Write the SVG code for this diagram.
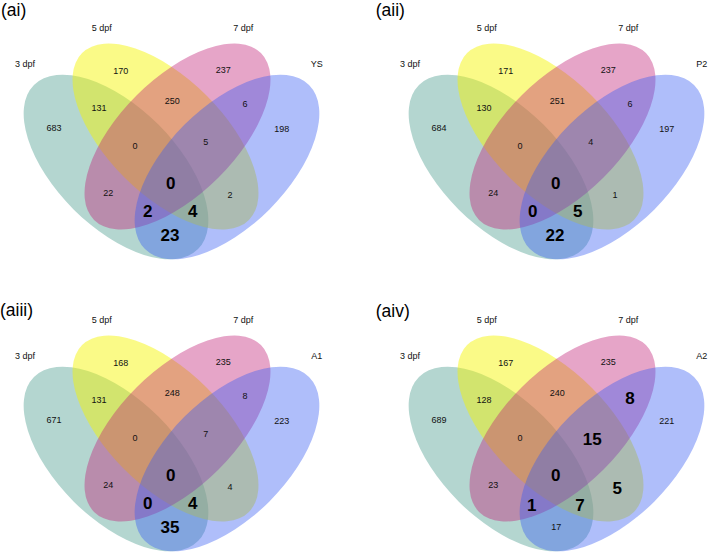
<svg xmlns="http://www.w3.org/2000/svg" width="709" height="552" viewBox="0 0 709 552">
<style>
.bg{fill:#ffffff}
.eg{fill:#43988a;fill-opacity:0.4}
.ey{fill:#f5f500;fill-opacity:0.47}
.ep{fill:#c01e75;fill-opacity:0.4}
.eb{fill:#375cf2;fill-opacity:0.4}
text{font-family:"Liberation Sans",Arial,sans-serif;fill:#111}
.t{font-size:17.5px;fill:#000}
.c{font-size:9px;text-anchor:middle}
.n{font-size:9px;text-anchor:middle}
.b{font-size:17px;font-weight:bold;text-anchor:middle;fill:#000}
</style>
<rect class="bg" x="0" y="0" width="709" height="552"/>

<g id="panel-ai">
  <text class="t" x="1" y="15.7">(ai)</text>
  <g id="ai-3dpf"><ellipse class="eg" rx="116" ry="60" transform="translate(116,167) rotate(45)"/><text class="c" x="25" y="67.2">3 dpf</text></g>
  <g id="ai-5dpf"><ellipse class="ey" rx="118" ry="58" transform="translate(165.5,136.5) rotate(45)"/><text class="c" x="101.7" y="31.2">5 dpf</text></g>
  <g id="ai-7dpf"><ellipse class="ep" rx="118" ry="58" transform="translate(177.5,136.5) rotate(-45)"/><text class="c" x="243.3" y="31.2">7 dpf</text></g>
  <g id="ai-ys"><ellipse class="eb" rx="116" ry="60" transform="translate(227,167) rotate(-45)"/><text class="c" x="316.7" y="67.2">YS</text></g>
  <g id="ai-counts">
    <text class="n" x="120.7" y="74.2">170</text>
    <text class="n" x="223.3" y="73.2">237</text>
    <text class="n" x="99" y="110.9">131</text>
    <text class="n" x="172.3" y="104.2">250</text>
    <text class="n" x="245" y="106.5">6</text>
    <text class="n" x="54" y="130.9">683</text>
    <text class="n" x="281.7" y="132.2">198</text>
    <text class="n" x="135" y="148.9">0</text>
    <text class="n" x="205.7" y="144.9">5</text>
    <text class="n" x="108.3" y="195.9">22</text>
    <text class="n" x="230" y="198.2">2</text>
    <text class="b" x="170.7" y="189.4">0</text>
    <text class="b" x="147.7" y="217.1">2</text>
    <text class="b" x="192.7" y="217.1">4</text>
    <text class="b" x="170" y="241.1">23</text>
  </g>
</g>

<g id="panel-aii">
  <text class="t" x="375.7" y="15.7">(aii)</text>
  <g transform="translate(385,0)">
  <g id="aii-3dpf"><ellipse class="eg" rx="116" ry="60" transform="translate(116,167) rotate(45)"/><text class="c" x="25" y="67.2">3 dpf</text></g>
  <g id="aii-5dpf"><ellipse class="ey" rx="118" ry="58" transform="translate(165.5,136.5) rotate(45)"/><text class="c" x="101.7" y="31.2">5 dpf</text></g>
  <g id="aii-7dpf"><ellipse class="ep" rx="118" ry="58" transform="translate(177.5,136.5) rotate(-45)"/><text class="c" x="243.3" y="31.2">7 dpf</text></g>
  <g id="aii-p2"><ellipse class="eb" rx="116" ry="60" transform="translate(227,167) rotate(-45)"/><text class="c" x="316.7" y="67.2">P2</text></g>
  <g id="aii-counts">
    <text class="n" x="120.7" y="74.2">171</text>
    <text class="n" x="223.3" y="73.2">237</text>
    <text class="n" x="99" y="110.9">130</text>
    <text class="n" x="172.3" y="104.2">251</text>
    <text class="n" x="245" y="106.5">6</text>
    <text class="n" x="54" y="130.9">684</text>
    <text class="n" x="281.7" y="132.2">197</text>
    <text class="n" x="135" y="148.9">0</text>
    <text class="n" x="205.7" y="144.9">4</text>
    <text class="n" x="108.3" y="195.9">24</text>
    <text class="n" x="230" y="198.2">1</text>
    <text class="b" x="170.7" y="189.4">0</text>
    <text class="b" x="147.7" y="217.1">0</text>
    <text class="b" x="192.7" y="217.1">5</text>
    <text class="b" x="170" y="241.1">22</text>
  </g>
  </g>
</g>

<g id="panel-aiii">
  <text class="t" x="0" y="315.7">(aiii)</text>
  <g transform="translate(0,292)">
  <g id="aiii-3dpf"><ellipse class="eg" rx="116" ry="60" transform="translate(116,167) rotate(45)"/><text class="c" x="25" y="67.2">3 dpf</text></g>
  <g id="aiii-5dpf"><ellipse class="ey" rx="118" ry="58" transform="translate(165.5,136.5) rotate(45)"/><text class="c" x="101.7" y="31.2">5 dpf</text></g>
  <g id="aiii-7dpf"><ellipse class="ep" rx="118" ry="58" transform="translate(177.5,136.5) rotate(-45)"/><text class="c" x="243.3" y="31.2">7 dpf</text></g>
  <g id="aiii-a1"><ellipse class="eb" rx="116" ry="60" transform="translate(227,167) rotate(-45)"/><text class="c" x="316.7" y="67.2">A1</text></g>
  <g id="aiii-counts">
    <text class="n" x="120.7" y="74.2">168</text>
    <text class="n" x="223.3" y="73.2">235</text>
    <text class="n" x="99" y="110.9">131</text>
    <text class="n" x="172.3" y="104.2">248</text>
    <text class="n" x="245" y="106.5">8</text>
    <text class="n" x="54" y="130.9">671</text>
    <text class="n" x="281.7" y="132.2">223</text>
    <text class="n" x="135" y="148.9">0</text>
    <text class="n" x="205.7" y="144.9">7</text>
    <text class="n" x="108.3" y="195.9">24</text>
    <text class="n" x="230" y="198.2">4</text>
    <text class="b" x="170.7" y="189.4">0</text>
    <text class="b" x="147.7" y="217.1">0</text>
    <text class="b" x="192.7" y="217.1">4</text>
    <text class="b" x="170" y="241.1">35</text>
  </g>
  </g>
</g>

<g id="panel-aiv">
  <text class="t" x="375.7" y="317.4">(aiv)</text>
  <g transform="translate(385,292)">
  <g id="aiv-3dpf"><ellipse class="eg" rx="116" ry="60" transform="translate(116,167) rotate(45)"/><text class="c" x="25" y="67.2">3 dpf</text></g>
  <g id="aiv-5dpf"><ellipse class="ey" rx="118" ry="58" transform="translate(165.5,136.5) rotate(45)"/><text class="c" x="101.7" y="31.2">5 dpf</text></g>
  <g id="aiv-7dpf"><ellipse class="ep" rx="118" ry="58" transform="translate(177.5,136.5) rotate(-45)"/><text class="c" x="243.3" y="31.2">7 dpf</text></g>
  <g id="aiv-a2"><ellipse class="eb" rx="116" ry="60" transform="translate(227,167) rotate(-45)"/><text class="c" x="316.7" y="67.2">A2</text></g>
  <g id="aiv-counts">
    <text class="n" x="120.7" y="74.2">167</text>
    <text class="n" x="223.3" y="73.2">235</text>
    <text class="n" x="99" y="110.9">128</text>
    <text class="n" x="172.3" y="104.2">240</text>
    <text class="b" x="245" y="111.8">8</text>
    <text class="n" x="54" y="130.9">689</text>
    <text class="n" x="281.7" y="132.2">221</text>
    <text class="n" x="135" y="148.9">0</text>
    <text class="b" x="207.3" y="152.8">15</text>
    <text class="n" x="108.3" y="195.9">23</text>
    <text class="b" x="232.3" y="201.8">5</text>
    <text class="b" x="170.7" y="189.4">0</text>
    <text class="b" x="146.7" y="219.4">1</text>
    <text class="b" x="195" y="219.4">7</text>
    <text class="n" x="171.3" y="238.2">17</text>
  </g>
  </g>
</g>
</svg>
